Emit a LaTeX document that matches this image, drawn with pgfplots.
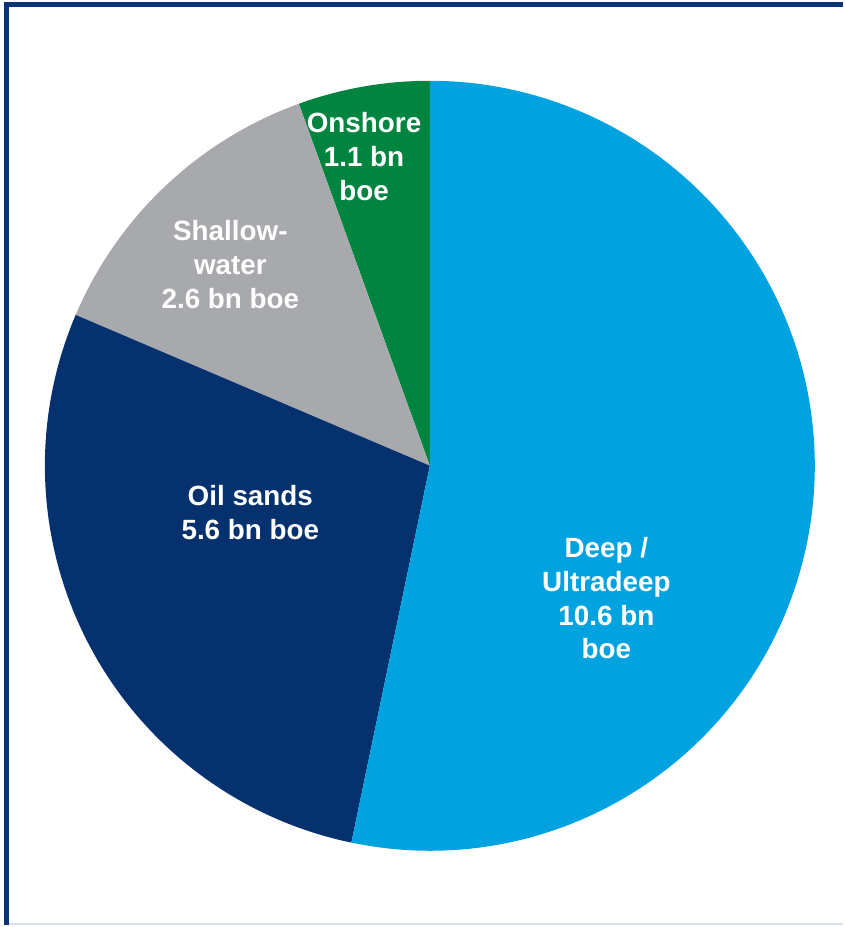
\documentclass[border=0pt]{standalone}
\usepackage{pgfplots}
\pgfplotsset{compat=1.18}
\usepackage{fontspec}
\setmainfont{Liberation Sans}
\definecolor{cDeep}{HTML}{00A3E0}
\definecolor{cOil}{HTML}{05316F}
\definecolor{cShallow}{HTML}{A7A9AC}
\definecolor{cOn}{HTML}{00843F}
\definecolor{cFrame}{HTML}{0B3478}
\definecolor{cBot}{HTML}{DCE2EA}
\begin{document}
\begin{tikzpicture}
% values (bn boe): Onshore, Shallow-water, Oil sands, Deep/Ultradeep
\def\vOn{1.1}\def\vSh{2.6}\def\vOil{5.6}\def\vDeep{10.6}
\pgfmathsetmacro{\tot}{\vOn+\vSh+\vOil+\vDeep}
\pgfmathsetmacro{\aA}{90}
\pgfmathsetmacro{\aB}{\aA+360*\vOn/\tot}
\pgfmathsetmacro{\aC}{\aB+360*\vSh/\tot}
\pgfmathsetmacro{\aD}{\aC+360*\vOil/\tot}
\pgfmathsetmacro{\aE}{\aD+360*\vDeep/\tot}
\begin{axis}[
  scale only axis, width=845bp, height=927bp,
  xmin=0, xmax=845, ymin=0, ymax=927,
  axis lines=none, ticks=none, clip=false,
]
\path (axis cs:0,0) rectangle (axis cs:845,927);
\def\ctr{(axis cs:431,460)}
\def\R{386bp}
\fill[cOn] \ctr -- ++(\aA:\R) arc[start angle=\aA, end angle=\aB, radius=\R] -- cycle;
\fill[cShallow] \ctr -- ++(\aB:\R) arc[start angle=\aB, end angle=\aC, radius=\R] -- cycle;
\fill[cOil] \ctr -- ++(\aC:\R) arc[start angle=\aC, end angle=\aD, radius=\R] -- cycle;
\fill[cDeep] \ctr -- ++(\aD:\R) arc[start angle=\aD, end angle=\aE, radius=\R] -- cycle;
\tikzset{lab/.style={text=white, font=\fontsize{28}{34}\selectfont\bfseries, align=center, inner sep=0pt}}
\node[lab] at (axis cs:608,327) {Deep /\\Ultradeep\\10.6 bn\\boe};
\node[lab] at (axis cs:251,413) {Oil sands\\5.6 bn boe};
\node[lab] at (axis cs:231,662) {Shallow-\\water\\2.6 bn boe};
\node[lab] at (axis cs:365,770) {Onshore\\1.1 bn\\boe};
\draw[cBot, line width=1.5bp] (axis cs:8,0.75) -- (axis cs:845,0.75);
\draw[cFrame, line width=5bp] (axis cs:6.5,0) -- (axis cs:6.5,922) -- (axis cs:845,922);
\end{axis}
\end{tikzpicture}
\end{document}
